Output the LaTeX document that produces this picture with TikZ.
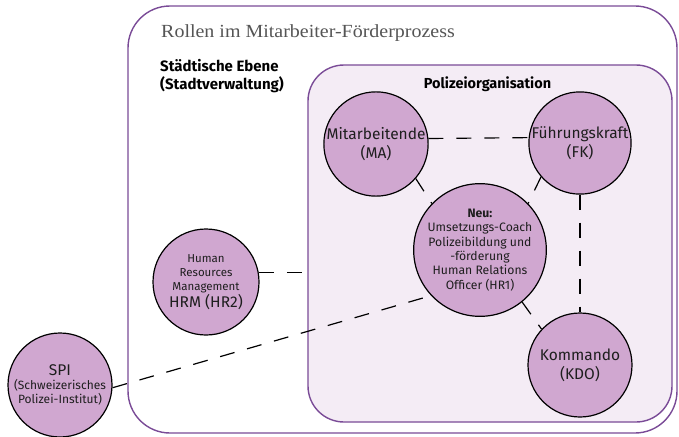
\documentclass[tikz,border=0pt]{standalone}
\usepackage{fontspec}
\setmainfont{Fira Sans}
\newfontfamily\titlefont[FakeStretch=1.08]{Liberation Serif}
\definecolor{boxline}{HTML}{7A4B97}
\definecolor{bubble}{HTML}{D0A7D0}
\definecolor{panel}{HTML}{F4ECF5}
\definecolor{titlegray}{HTML}{555555}
\definecolor{ink}{HTML}{1E1E1E}
\begin{document}
\begin{tikzpicture}[x=1pt,y=-1pt,
  frame/.style={draw=boxline, line width=1.4pt, inner sep=0pt},
  role/.style={circle, draw=black, line width=1.2pt, fill=bubble,
    inner sep=0pt, align=center, text=ink},
  bigrole/.style={role, font=\fontsize{15.5}{19}\selectfont},
  link/.style={draw=black, line width=1.2pt, dash pattern=on 15pt off 13pt},
  heading/.style={font=\fontsize{15}{18}\selectfont\bfseries, text=black,
    inner sep=0pt, align=left}]
\useasboundingbox (0,0) rectangle (679,436);

% outer frame and police organisation panel
\node[frame, fill=white, rounded corners=42pt, minimum width=549pt,
  minimum height=427pt] (outer) at (402.5,219.5) {};
\node[frame, fill=panel, rounded corners=36pt, minimum width=364pt,
  minimum height=357pt] (org) at (490,243.5) {};

% titles
\node[anchor=base west, inner sep=0pt, text=titlegray,
  font=\titlefont\fontsize{18.5}{20}\selectfont] (title) at (161,37.5)
  {Rollen im Mitarbeiter-Förderprozess};
\node[heading, anchor=base west] (city) at (160,89)
  {Städtische Ebene\\(Stadtverwaltung)};
\node[heading, font=\fontsize{14.5}{18}\selectfont\bfseries, anchor=base]
  (police) at (487.5,88.5) {Polizeiorganisation};

% roles
\node[bigrole, minimum size=102pt] (ma) at (376,144) {Mitarbeitende\\(MA)};
\node[bigrole, minimum size=102pt] (fk) at (580,143) {Führungskraft\\(FK)};
\node[role, minimum size=130pt, font=\fontsize{12.2}{14.3}\selectfont]
  (hr1) at (480,250) {\textbf{Neu:}\\Umsetzungs-Coach\\Polizeibildung und\\-förderung\\Human Relations\\Officer (HR1)};
\node[bigrole, minimum size=104pt] (kdo) at (580,365) {Kommando\\(KDO)};
\node[role, minimum size=106pt, font=\fontsize{11.5}{14}\selectfont]
  (hrm) at (206,282) {Human\\Resources\\Management\\[1pt]{\fontsize{15.5}{16}\selectfont HRM (HR2)}};
\node[role, minimum size=104pt, font=\fontsize{12}{13.8}\selectfont]
  (spi) at (60,385) {{\fontsize{15.5}{16}\selectfont SPI}\\(Schweizerisches\\Polizei-Institut)};

% dashed relations
\coordinate (orgentry) at (hrm.10 -| org.west);
\draw[link] (ma.6) -- (fk.174);
\draw[link] (ma.-41) -- (hr1.136);
\draw[link] (fk.221) -- (hr1.44);
\draw[link] (fk.-90) -- (kdo.90);
\draw[link] (hr1.-51) -- (kdo.137);
\draw[link] (hrm.10) -- (orgentry);
\draw[link] (spi.-3) -- (hr1.223);
\end{tikzpicture}
\end{document}
